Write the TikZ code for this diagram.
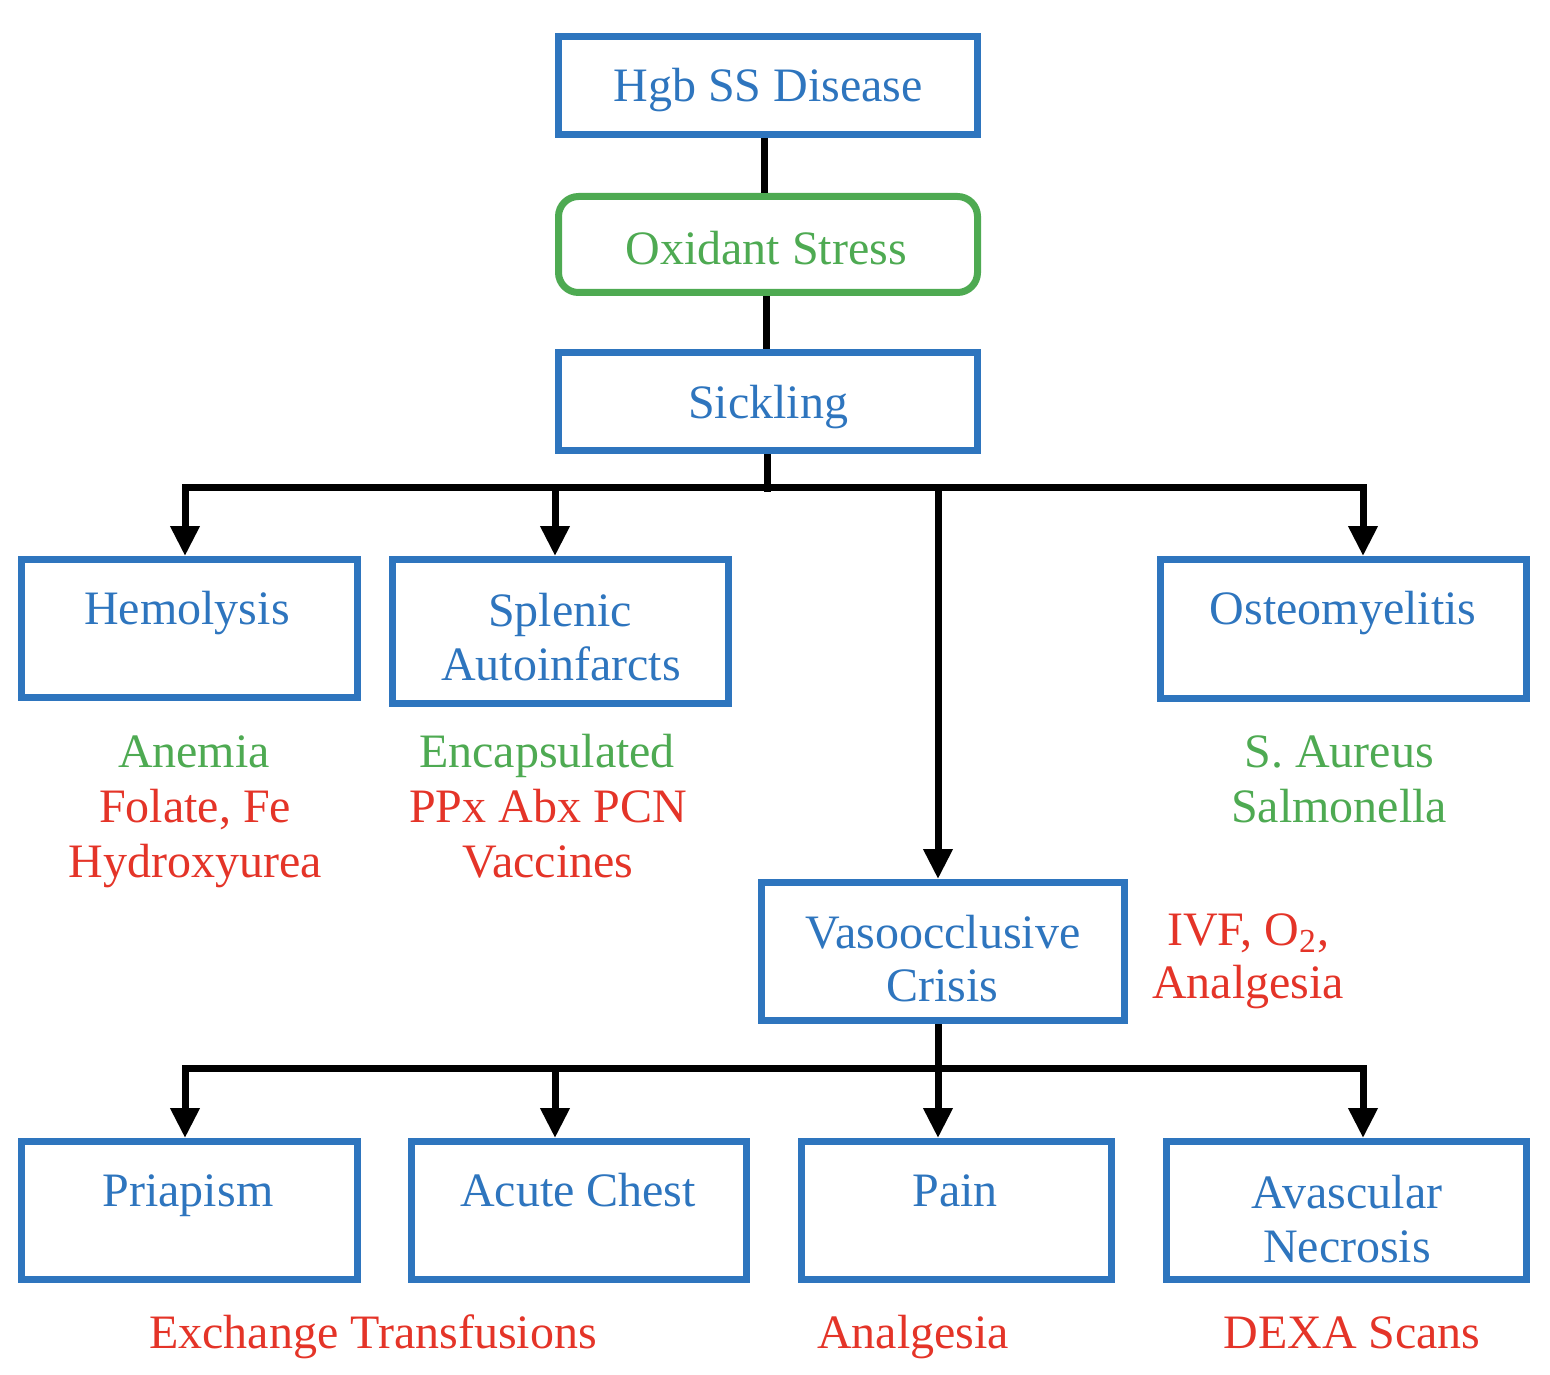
\documentclass[tikz,border=0pt]{standalone}
\usepackage{fontspec}
\setmainfont{Liberation Serif}
\usetikzlibrary{arrows.meta,fit}
\definecolor{bxblue}{RGB}{46,117,190}
\definecolor{bxgreen}{RGB}{78,170,82}
\definecolor{txred}{RGB}{228,52,40}
\begin{document}
\begin{tikzpicture}[x=0.5pt,y=-0.5pt,
  box/.style={draw=bxblue,line width=3.5pt,inner sep=0pt},
  gbox/.style={draw=bxgreen,line width=3.5pt,inner sep=0pt,rounded corners=10pt},
  lbl/.style={inner sep=0pt,anchor=base,font=\fontsize{24}{27.5}\selectfont},
  bl/.style={lbl,text=bxblue},
  gr/.style={lbl,text=bxgreen},
  rd/.style={lbl,text=txred},
  conn/.style={draw=black,line width=3.5pt},
  bus/.style={conn,line cap=rect},
  arr/.style={conn,-{Triangle[width=14pt,length=15pt]}}]
\useasboundingbox (0,0) rectangle (1550,1374);
% boxes
\node[box,fit={(558.5,36.5) (977.5,134.5)}] (hgb) {};
\node[gbox,fit={(558.5,196.5) (977.5,292.5)}] (ox) {};
\node[box,fit={(558.5,352.5) (977.5,450.5)}] (sick) {};
\node[box,fit={(21.5,559.5) (357.5,697.5)}] (hemo) {};
\node[box,fit={(392.5,559.5) (728.5,703.5)}] (splen) {};
\node[box,fit={(1160.5,559.5) (1526.5,698.5)}] (osteo) {};
\node[box,fit={(761.5,882.5) (1124.5,1020.5)}] (vaso) {};
\node[box,fit={(21.5,1141.5) (357.5,1279.5)}] (pria) {};
\node[box,fit={(411.5,1141.5) (746.5,1279.5)}] (acute) {};
\node[box,fit={(801.5,1141.5) (1111.5,1279.5)}] (pain) {};
\node[box,fit={(1166.5,1141.5) (1526.5,1279.5)}] (avasc) {};
% box texts
\node[bl] (thgb) at (768,102) {Hgb SS Disease};
\node[gr] (tox) at (766,265) {Oxidant Stress};
\node[bl] (tsick) at (768,418) {Sickling};
\node[bl] (themo) at (187,624) {Hemolysis};
\node[bl] (tsplen1) at (560,626) {Splenic};
\node[bl] (tsplen2) at (561,680) {Autoinfarcts};
\node[bl] (tosteo) at (1343,624) {Osteomyelitis};
\node[bl] (tvaso1) at (943,948) {Vasoocclusive};
\node[bl] (tvaso2) at (942,1001) {Crisis};
\node[bl] (tpria) at (188,1206) {Priapism};
\node[bl] (tacute) at (578,1206) {Acute Chest};
\node[bl] (tpain) at (955,1206) {Pain};
\node[bl] (tavasc1) at (1347,1208) {Avascular};
\node[bl] (tavasc2) at (1347,1262) {Necrosis};
% annotations
\node[gr] (a1) at (194,767) {Anemia};
\node[rd] (a2) at (195,822) {Folate, Fe};
\node[rd] (a3) at (195,877) {Hydroxyurea};
\node[gr] (b1) at (547,767) {Encapsulated};
\node[rd] (b2) at (548,822) {PPx Abx PCN};
\node[rd] (b3) at (548,877) {Vaccines};
\node[gr] (c1) at (1339,767) {S. Aureus};
\node[gr] (c2) at (1339,822) {Salmonella};
\node[rd] (d1) at (1248,945) {IVF, O\textsubscript{2},};
\node[rd] (d2) at (1248,998) {Analgesia};
\node[rd] (e1) at (373,1348) {Exchange Transfusions};
\node[rd] (e2) at (913,1348) {Analgesia};
\node[rd] (e3) at (1352,1348) {DEXA Scans};
% connectors
\coordinate (k1) at (764,0);
\coordinate (k2) at (766,0);
\draw[conn] (hgb.south -| k1) -- (ox.north -| k1);
\draw[conn] (ox.south -| k2) -- (sick.north -| k2);
\coordinate (sb) at (767,492);
\draw[conn] (sick.south -| sb) -- (sb);
\coordinate (busL) at (185,487);
\coordinate (busS) at (555,487);
\coordinate (busV) at (938,487);
\coordinate (busR) at (1363,487);
\draw[bus] (busL) -- (busR);
\draw[arr] (busL) -- (hemo.north -| busL);
\draw[arr] (busS) -- (splen.north -| busS);
\draw[arr] (busV) -- (vaso.north -| busV);
\draw[arr] (busR) -- (osteo.north -| busR);
\coordinate (bus2L) at (185,1068);
\coordinate (bus2S) at (555,1068);
\coordinate (bus2V) at (938,1068);
\coordinate (bus2R) at (1363,1068);
\draw[conn] (vaso.south -| bus2V) -- (bus2V);
\draw[bus] (bus2L) -- (bus2R);
\draw[arr] (bus2L) -- (pria.north -| bus2L);
\draw[arr] (bus2S) -- (acute.north -| bus2S);
\draw[arr] (bus2V) -- (pain.north -| bus2V);
\draw[arr] (bus2R) -- (avasc.north -| bus2R);
\end{tikzpicture}
\end{document}
